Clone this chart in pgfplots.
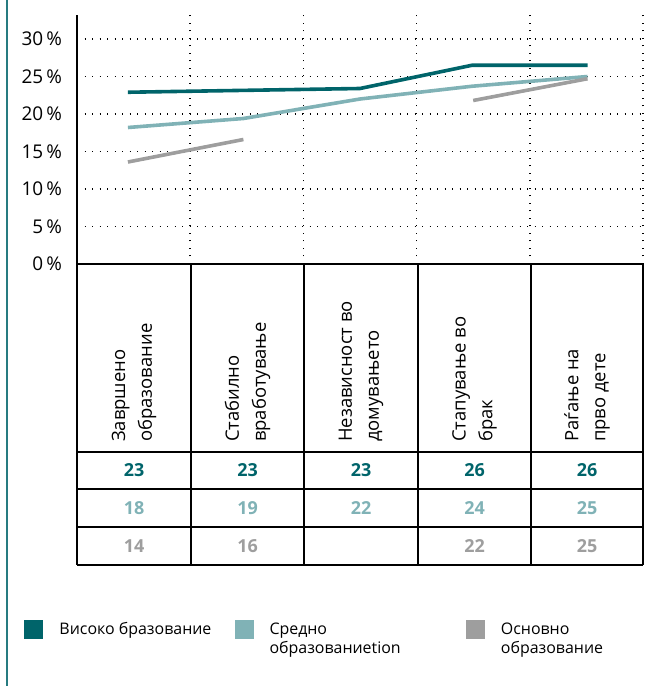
\documentclass[border=0pt]{standalone}
\usepackage{fontspec}
\setmainfont{Open Sans}
\usepackage{pgfplots}
\pgfplotsset{compat=1.18}

\definecolor{hiedu}{HTML}{00646A}
\definecolor{midedu}{HTML}{80B2B6}
\definecolor{lowedu}{HTML}{9E9E9E}

\begin{document}
\begin{tikzpicture}
\path[use as bounding box] (-77bp,-422bp) rectangle (583bp,264bp);
\begin{axis}[
    at={(0,0)}, anchor=south west,
    scale only axis,
    width=566bp, height=249bp,
    xmin=0, xmax=5,
    ymin=0, ymax=33.2,
    axis lines=left,
    axis line style={-, line width=1.7bp, black},
    xtick={1,2,3,4,5},
    xticklabels={},
    ytick={0,5,...,30},
    major tick length=0pt,
    grid=major,
    major grid style={black, line width=1.5bp, dash pattern=on 1.4bp off 6.1bp},
    yticklabel={\pgfmathprintnumber{\tick}\,\%},
    yticklabel style={font=\fontsize{19}{19}\selectfont, xshift=-11.5bp,
        /pgf/number format/assume math mode=true},
    unbounded coords=jump,
]
    % high education
    \addplot[hiedu, line width=3.6bp] coordinates {
        (0.45,22.9) (1.47,23.15) (2.5,23.4) (3.49,26.5) (4.51,26.5)
    };
    % secondary education
    \addplot[midedu, line width=3.6bp] coordinates {
        (0.45,18.2) (1.47,19.4) (2.5,22.0) (3.49,23.7) (4.51,25.0)
    };
    % primary education
    \addplot[lowedu, line width=3.6bp] coordinates {
        (0.45,13.6) (1.47,16.6) (2.5,nan) (3.5,21.8) (4.51,24.7)
    };
\end{axis}

\begin{scope}[x=1bp, y=1bp]
    % table grid
    \draw[line width=1.8bp] (0,0) -- (0,-301);
    \foreach \cx in {114,227,341,454}
        \draw[line width=1.1bp] (\cx,0) -- (\cx,-301);
    \draw[line width=1.5bp] (566,0) -- (566,-301);
    \foreach \ry in {-188,-225,-263,-301}
        \draw[line width=1.8bp] (0,\ry) -- (566,\ry);

    % category labels
    \tikzset{cat/.style={rotate=90, anchor=west, align=left, inner sep=0pt,
        font=\fontsize{18.5}{27}\selectfont}}
    \node[cat] at (57,-178)    {Завршено\\образование};
    \node[cat] at (170.5,-178) {Стабилно\\вработување};
    \node[cat] at (284,-178)   {Независност во\\домувањето};
    \node[cat] at (397.5,-178) {Стапување во\\брак};
    \node[cat] at (510,-178)   {Раѓање на\\прво дете};

    % values
    \tikzset{val/.style={font=\bfseries\fontsize{18}{18}\selectfont}}
    \foreach \cx/\v in {57/23,170.5/23,284/23,397.5/26,510/26}
        \node[val, text=hiedu] at (\cx,-206.5) {\v};
    \foreach \cx/\v in {57/18,170.5/19,284/22,397.5/24,510/25}
        \node[val, text=midedu] at (\cx,-244) {\v};
    \foreach \cx/\v in {57/14,170.5/16,397.5/22,510/25}
        \node[val, text=lowedu] at (\cx,-282) {\v};

    % left accent line
    \draw[hiedu!85, line width=2bp] (-70,264) -- (-70,-422);

    % legend
    \tikzset{leg/.style={anchor=base west, inner sep=0pt,
        font=\fontsize{16}{19}\selectfont}}
    \fill[hiedu]  (-53,-356) rectangle (-34.3,-374.7);
    \node[leg] at (-17.7,-370.3) {Високо бразование};
    \fill[midedu] (158.3,-356) rectangle (177,-374.7);
    \node[leg] at (192.3,-370.3) {Средно};
    \node[leg] at (192.3,-389.3) {образованиеtion};
    \fill[lowedu] (389,-356) rectangle (408,-374.7);
    \node[leg] at (423.7,-370.3) {Основно};
    \node[leg] at (423.7,-389.3) {образование};
\end{scope}
\end{tikzpicture}
\end{document}
